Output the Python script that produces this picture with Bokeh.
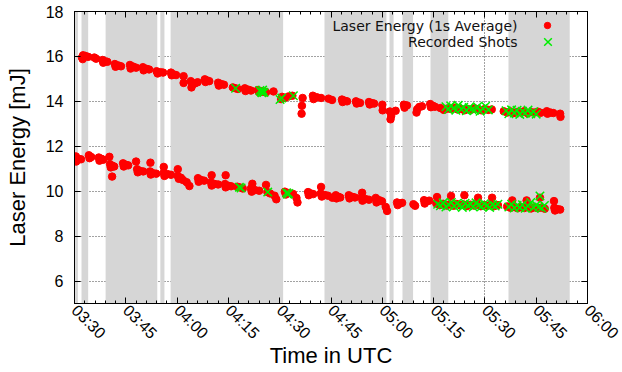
import math
from bokeh.plotting import figure
from bokeh.models import (FixedTicker, LinearAxis, BoxAnnotation, Legend, LegendItem,
                          Range1d, Label)
from bokeh.embed import file_html
from bokeh.resources import INLINE

# x values are minutes after 03:30 UTC
TICK_MIN = [0, 15, 30, 45, 60, 75, 90, 105, 120, 135, 150]
TICK_LABELS = ["03:30", "03:45", "04:00", "04:15", "04:30", "04:45",
               "05:00", "05:15", "05:30", "05:45", "06:00"]
MINOR_MIN = [0, 3, 6, 9, 12, 15, 18, 21, 24, 27, 30, 33, 36, 39, 42, 45, 48, 51, 54, 57,
             60, 63, 66, 69, 72, 75, 78, 81, 84, 87, 90, 93, 96, 99, 102, 105, 108, 111,
             114, 117, 120, 123, 126, 129, 132, 135, 138, 141, 144, 147, 150]
Y_TICKS = [6, 8, 10, 12, 14, 16, 18]

# grey shaded periods (minutes after 03:30)
BAND_START = [0.2, 2.05, 9.1, 25.1, 28.1, 73.1, 92.1, 95.9, 104.1, 126.9]
BAND_END = [1.0, 4.0, 24.2, 26.3, 61.0, 91.2, 93.3, 99.0, 109.3, 144.8]

# upper laser (1 s average)
UPPER_T = [2.2, 2.5, 3.2, 4.0, 2.4, 5.8, 6.3, 8.2, 8.4, 9.0, 9.6,
           11.8, 12.0, 12.8, 13.6, 16.2, 16.4, 17.1, 18.0, 20.0, 20.2, 21.0, 21.8,
           24.0, 24.3, 25.1, 25.9, 28.2, 28.4, 29.0, 29.7, 31.9, 31.9,
           34.0, 34.2, 34.5, 35.2, 36.0, 38.1, 38.3, 38.8, 39.4, 42.0, 42.2, 42.9, 43.7,
           46.3, 47.1, 47.8, 49.8, 50.0, 50.8, 51.6, 53.6, 54.0, 54.8, 55.4, 56.0, 58.2,
           60.4, 60.7, 61.5, 62.6, 63.7, 66.7, 66.5, 66.4, 69.7, 69.9, 70.9, 72.1,
           74.3, 75.3, 78.2, 78.4, 79.0, 79.7, 82.3, 82.5, 83.0, 83.5, 86.1, 86.3, 87.0, 87.6,
           90.0, 90.1, 92.2, 92.4, 92.6, 93.9, 96.3, 96.5, 97.2,
           100.0, 100.2, 100.8, 101.6, 104.0, 104.2, 104.8, 105.4,
           107, 108, 109, 110, 111, 112, 113, 114, 115, 116, 117, 118, 119, 120, 121, 122,
           125.5, 126.5, 127.5, 128.5, 129.5, 130.5, 131.5, 132.5, 133.5, 134.5, 135.5, 136.3,
           138.1, 138.3, 139.2, 140.0, 142.0, 142.1]
UPPER_E = [15.95, 16.05, 16.02, 15.98, 15.88, 15.95, 15.9, 15.84, 15.72, 15.78, 15.76,
           15.66, 15.54, 15.6, 15.56, 15.62, 15.46, 15.55, 15.5, 15.52, 15.38, 15.45, 15.42,
           15.34, 15.24, 15.3, 15.28, 15.28, 15.16, 15.2, 15.17, 15.12, 14.82,
           14.9, 14.62, 14.75, 14.8, 14.85, 14.98, 14.86, 14.93, 14.9, 14.83, 14.7, 14.77, 14.74,
           14.62, 14.58, 14.55, 14.58, 14.46, 14.52, 14.48, 14.5, 14.4, 14.45, 14.42, 14.4, 14.44,
           14.1, 14.2, 14.15, 14.22, 14.25, 14.15, 13.8, 13.45, 14.25, 14.1, 14.18, 14.15,
           14.12, 14.06, 14.08, 13.97, 14.03, 14.0, 14.0, 13.9, 13.95, 13.93, 13.97, 13.86, 13.92, 13.9,
           13.85, 13.6, 13.55, 13.2, 13.35, 13.58, 13.85, 13.72, 13.82,
           13.5, 13.65, 13.75, 13.78, 13.88, 13.74, 13.8, 13.76,
           13.7, 13.62, 13.68, 13.66, 13.72, 13.64, 13.67, 13.6, 13.66, 13.63, 13.69, 13.65, 13.6, 13.66, 13.62, 13.64,
           13.56, 13.5, 13.55, 13.48, 13.53, 13.5, 13.56, 13.47, 13.52, 13.5, 13.54, 13.49,
           13.56, 13.45, 13.5, 13.48, 13.45, 13.31]

# lower laser (1 s average)
LOWER_T = [0.4, 0.5, 1.0, 1.9, 4.2, 4.4, 4.9, 7.1, 7.3, 7.9, 8.4, 10.2,
           10.4, 10.6, 11.1, 11.6, 11.0, 14.2, 14.4, 15.0, 15.7, 18.0,
           18.3, 18.5, 19.2, 20.1, 22.2, 22.1, 22.3, 23.0, 23.9, 26.1,
           26.1, 26.3, 27.2, 28.2, 30.2, 30.2, 30.5, 31.1, 31.7, 32.8, 33.6,
           36.1, 36.3, 37.0, 37.9, 40.1, 39.9, 40.1, 41.0, 42.0, 44.2,
           44.0, 44.2, 45.0, 45.8, 47.6, 48.5, 49.2, 52.0, 51.6, 51.8, 52.8, 54.0, 56.0,
           56.4, 57.2, 58.5, 59.0, 61.5, 61.8, 62.7, 63.9, 64.9, 65.2,
           68.3, 68.5, 69.1, 69.8, 72.1, 72.0, 72.3, 73.2, 74.1, 75.4,
           76.4, 76.6, 77.2, 77.7, 80.2, 80.4, 81.2, 82.0, 84.1,
           84.0, 84.2, 85.1, 86.1, 88.1, 88.3, 89.1, 89.9, 91.0, 91.4,
           94.3, 94.5, 95.2, 95.8, 99.1, 99.6, 102.2, 102.4, 103.0, 103.7, 106.0,
           105.8, 106.8, 107.8, 108.8, 109.8, 110.1, 110.8, 111.8, 112.8, 113.8, 114.0, 114.8,
           115.8, 116.8, 117.8, 118.0, 118.8, 119.8, 120.8, 121.8, 122.1, 122.8, 123.8,
           126.5, 127.5, 128.0, 128.5, 129.5, 130.5, 131.5, 132.2, 132.5, 133.5, 134.5,
           135.5, 136.1, 136.5, 137.5, 140.2, 140.3, 140.5, 141.3, 142.0]
LOWER_E = [11.55, 11.32, 11.45, 11.42, 11.6, 11.47, 11.52, 11.5, 11.36, 11.44, 11.4, 11.53,
           11.2, 11.06, 11.13, 11.1, 10.65, 11.24, 11.1, 11.18, 11.15, 11.32,
           10.98, 10.84, 10.9, 10.88, 11.27, 10.88, 10.74, 10.8, 10.78, 11.08,
           10.82, 10.68, 10.76, 10.73, 10.98, 10.68, 10.55, 10.6, 10.5, 10.4, 10.23,
           10.58, 10.42, 10.5, 10.47, 10.71, 10.4, 10.25, 10.32, 10.3, 10.71,
           10.32, 10.17, 10.24, 10.22, 10.2, 10.16, 10.12, 10.33, 10.12, 9.98, 10.05, 10.02, 10.28,
           9.96, 9.9, 9.8, 9.64, 9.98, 9.85, 9.92, 9.88, 9.7, 9.5,
           9.96, 9.82, 9.9, 9.87, 10.19, 9.9, 9.76, 9.83, 9.8, 9.71,
           9.82, 9.68, 9.75, 9.72, 9.82, 9.68, 9.75, 9.72, 9.93,
           9.72, 9.58, 9.65, 9.62, 9.7, 9.5, 9.6, 9.55, 9.3, 9.12,
           9.5, 9.38, 9.45, 9.48, 9.42, 9.35, 9.6, 9.45, 9.55, 9.58, 9.74,
           9.45, 9.38, 9.44, 9.36, 9.42, 9.79, 9.35, 9.43, 9.37, 9.41, 9.82, 9.34,
           9.4, 9.36, 9.42, 9.71, 9.33, 9.39, 9.35, 9.4, 9.71, 9.34, 9.38,
           9.32, 9.26, 9.59, 9.3, 9.24, 9.29, 9.25, 9.59, 9.3, 9.23, 9.28,
           9.24, 9.71, 9.27, 9.22, 9.56, 9.26, 9.14, 9.2, 9.18]

# recorded shots
SHOT_T = [47.1, 54.2, 54.6, 55.0, 55.4, 54.8, 60.1, 60.6, 64.0,
          108.6, 109.3, 110.0, 110.8, 111.5, 112.2, 113.0, 113.8, 114.6, 115.4, 116.2,
          117.0, 117.8, 118.6, 119.4, 120.2, 121.0,
          126.2, 127.0, 127.8, 128.6, 129.4, 130.2, 131.0, 131.8, 132.6, 133.4, 134.2, 135.0,
          48.2, 48.7, 56.5, 62.0, 62.6, 62.3,
          106.2, 107.0, 107.8, 108.6, 109.4, 110.2, 111.0, 111.8, 112.6, 113.4, 114.2, 115.0,
          115.8, 116.6, 117.4, 118.2, 119.0, 119.8, 120.6, 121.4, 122.2, 123.0, 123.8,
          127.0, 127.8, 128.6, 129.4, 130.2, 131.0, 131.8, 132.6, 133.4, 134.2, 135.0,
          135.8, 136.1, 136.6, 137.4]
SHOT_E = [14.58, 14.48, 14.42, 14.5, 14.4, 14.38, 14.08, 14.15, 14.25,
          13.76, 13.64, 13.8, 13.7, 13.6, 13.82, 13.66, 13.74, 13.58, 13.72, 13.64,
          13.6, 13.76, 13.56, 13.68, 13.78, 13.62,
          13.58, 13.45, 13.62, 13.48, 13.6, 13.42, 13.56, 13.47, 13.61, 13.45, 13.54, 13.43,
          10.18, 10.14, 9.96, 9.93, 9.9, 9.86,
          9.42, 9.35, 9.48, 9.3, 9.4, 9.5, 9.33, 9.45, 9.38, 9.28, 9.46, 9.36,
          9.42, 9.3, 9.48, 9.38, 9.32, 9.44, 9.36, 9.28, 9.4, 9.34, 9.42,
          9.3, 9.42, 9.25, 9.36, 9.28, 9.4, 9.24, 9.34, 9.5, 9.26, 9.38,
          9.3, 9.79, 9.24, 9.36]

LEGEND_LABELS = ["Laser Energy (1s Average)", "Recorded Shots"]

FONT = "Liberation Sans"

p = figure(width=622, height=372, output_backend="svg", toolbar_location=None,
           x_range=Range1d(0, 150), y_range=Range1d(5, 18),
           min_border_left=74, min_border_right=35, min_border_top=11, min_border_bottom=69)
p.background_fill_color = "white"
p.border_fill_color = "white"
p.outline_line_color = "black"
p.outline_line_width = 1

xt = FixedTicker(ticks=TICK_MIN, minor_ticks=MINOR_MIN)
yt = FixedTicker(ticks=Y_TICKS, minor_ticks=[])

xa = p.xaxis[0]
xa.ticker = xt
xa.major_label_overrides = {t: l for t, l in zip(TICK_MIN, TICK_LABELS)}
xa.major_label_orientation = -math.pi / 4
xa.axis_label = "Time in UTC"
xa.axis_label_standoff = -8
xa.major_label_standoff = 4

ya = p.yaxis[0]
ya.ticker = yt
ya.axis_label = "Laser Energy [mJ]"
ya.major_label_standoff = 11
ya.axis_label_standoff = 13

for ax in (xa, ya):
    ax.major_label_text_font = FONT
    ax.major_label_text_font_size = "16px"
    ax.major_label_text_color = "black"
    ax.axis_label_text_font = FONT
    ax.axis_label_text_font_size = "22px"
    ax.axis_label_text_font_style = "normal"
    ax.axis_label_text_color = "black"
    ax.axis_line_color = "black"
    ax.major_tick_in = 6
    ax.major_tick_out = 0
    ax.minor_tick_in = 3
    ax.minor_tick_out = 0
    ax.major_tick_line_color = "black"
    ax.minor_tick_line_color = "black"

top = LinearAxis(ticker=xt, major_label_overrides={t: "" for t in TICK_MIN},
                 major_label_standoff=0,
                 major_tick_in=6, major_tick_out=0, minor_tick_in=3, minor_tick_out=0,
                 axis_line_color="black", major_tick_line_color="black",
                 minor_tick_line_color="black")
p.add_layout(top, "above")
right = LinearAxis(ticker=yt, major_label_overrides={t: "" for t in Y_TICKS},
                   major_label_standoff=0,
                   major_tick_in=6, major_tick_out=0, minor_tick_out=0,
                   axis_line_color="black", major_tick_line_color="black")
p.add_layout(right, "right")

for g in (p.xgrid[0], p.ygrid[0]):
    g.grid_line_color = "#444444"
    g.grid_line_dash = "1 2"
    g.grid_line_width = 1
    g.level = "image"
p.xgrid[0].ticker = xt
p.ygrid[0].ticker = yt

for s, e in zip(BAND_START, BAND_END):
    p.add_layout(BoxAnnotation(left=s, right=e, fill_color="#d6d6d6", fill_alpha=1,
                               line_color=None, level="underlay"))

r_up = p.scatter(UPPER_T, UPPER_E, marker="circle", size=7.5, fill_color="#ff0000",
                 line_color="#ff0000")
r_lo = p.scatter(LOWER_T, LOWER_E, marker="circle", size=7.5, fill_color="#ff0000",
                 line_color="#ff0000")
r_shot = p.scatter(SHOT_T, SHOT_E, marker="x", size=12, line_color="#00ee00",
                   line_width=1.5)

# legend: symbols through Legend, texts right-aligned to the left of the symbols
common = dict(padding=0, margin=0, spacing=0, border_line_color=None,
              background_fill_alpha=0, label_text_font_size="1px", label_width=0,
              label_standoff=0)
leg1 = Legend(items=[LegendItem(label=" ", renderers=[r_up])],
              location=(465, 269), glyph_width=16, glyph_height=18, label_height=18,
              **common)
leg2 = Legend(items=[LegendItem(label=" ", renderers=[r_shot])],
              location=(460, 248), glyph_width=27, glyph_height=27, label_height=27,
              **common)
p.add_layout(leg1)
p.add_layout(leg2)

for txt, yy in zip(LEGEND_LABELS, [278, 261.5]):
    p.add_layout(Label(x=443, y=yy, x_units="screen", y_units="screen", text=txt,
                       text_align="right", text_baseline="middle",
                       text_font="DejaVu Sans", text_font_size="14px",
                       text_color="#111111"))

open("out.html", "w").write(file_html(p, INLINE))
